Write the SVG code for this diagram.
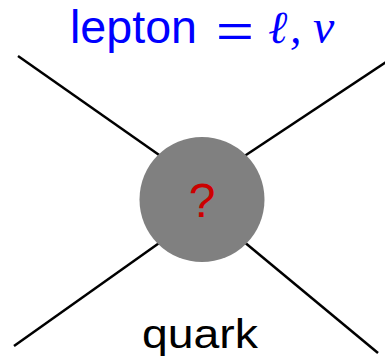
<svg xmlns="http://www.w3.org/2000/svg" width="385" height="362" viewBox="0 0 385 362">
<style>
.leg{stroke:#000;stroke-width:2.5;fill:none;stroke-linecap:butt}
.lbl{fill:#0000ff;font-family:"Liberation Sans",Arial,sans-serif}
.math{fill:#0000ff;font-family:"Liberation Serif","DejaVu Serif",serif;font-style:italic}
</style>
<rect width="385" height="362" fill="#fff"/>
<g id="connectors">
<line class="leg" x1="18" y1="56" x2="162" y2="157"/>
<line class="leg" x1="386" y1="62" x2="243" y2="157"/>
<line class="leg" x1="14" y1="346" x2="162" y2="241"/>
<line class="leg" x1="378" y1="353" x2="243" y2="241"/>
</g>
<g id="blob">
<circle cx="202" cy="199.5" r="62.5" fill="#808080"/>
<text x="202" y="217" text-anchor="middle" font-family="'Liberation Sans',Arial,sans-serif" font-size="48" fill="#cc0000">?</text>
</g>
<g id="lepton-label">
<text class="lbl" x="70" y="43" font-size="46" textLength="127" lengthAdjust="spacingAndGlyphs">lepton</text>
<text class="lbl" x="216" y="47" font-size="46" textLength="38" lengthAdjust="spacingAndGlyphs">=</text>
<text class="math" x="268" y="43" font-size="46">ℓ</text>
<text class="math" x="290" y="43" font-size="46">,</text>
<text class="math" x="313" y="43" font-size="48">ν</text>
</g>
<g id="quark-label">
<text x="142" y="348" font-family="'Liberation Sans',Arial,sans-serif" font-size="40" textLength="116" lengthAdjust="spacingAndGlyphs" fill="#000">quark</text>
</g>
</svg>
